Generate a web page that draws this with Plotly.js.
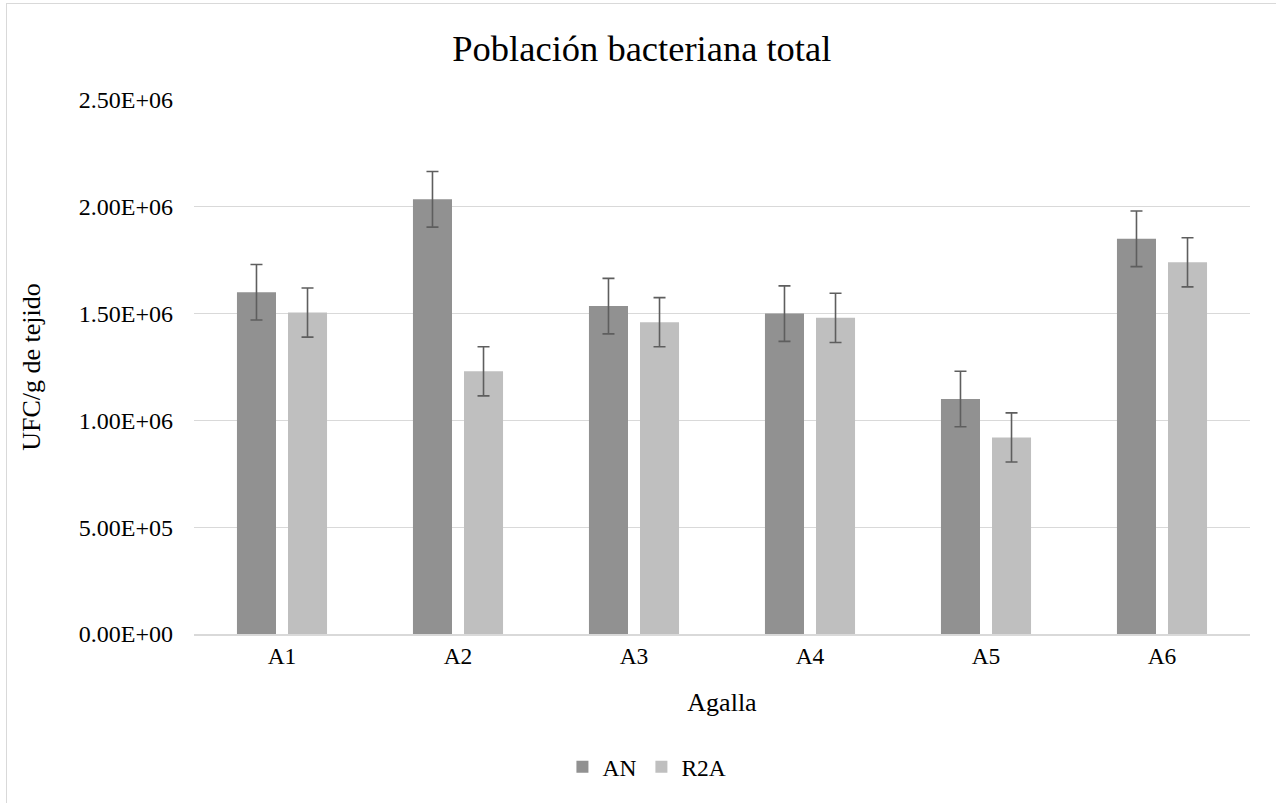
<!DOCTYPE html>
<html>
<head>
<meta charset="utf-8">
<script src="https://cdn.plot.ly/plotly-3.0.1.min.js"></script>
<style>
  html, body { margin: 0; padding: 0; background: #ffffff; overflow: hidden; }
  #chart { width: 1276px; height: 803px; }
  #frame { position: absolute; left: 6px; top: 3px; width: 1400px; height: 900px;
           border-left: 1.5px solid #d9d9d9; border-top: 1.5px solid #d9d9d9; pointer-events: none; }
</style>
</head>
<body>
<div id="chart"></div>
<div id="frame"></div>
<script>
const categories = ['A1', 'A2', 'A3', 'A4', 'A5', 'A6'];
const anValues  = [1.60e6, 2.035e6, 1.535e6, 1.50e6, 1.10e6, 1.85e6];
const r2aValues = [1.505e6, 1.23e6, 1.46e6, 1.48e6, 0.92e6, 1.74e6];
const anErrors  = [1.3e5, 1.3e5, 1.3e5, 1.3e5, 1.3e5, 1.3e5];
const r2aErrors = [1.15e5, 1.15e5, 1.15e5, 1.15e5, 1.15e5, 1.15e5];
const yTickVals = [0, 5e5, 1e6, 1.5e6, 2e6, 2.5e6];
const yTickText = ['0.00E+00', '5.00E+05', '1.00E+06', '1.50E+06', '2.00E+06', '2.50E+06'];

const FONT = 'Liberation Serif';
const errStyle = { type: 'data', visible: true, color: '#5e5e5e', thickness: 1.6, width: 6 };

const traces = [
  { type: 'bar', name: 'AN', x: categories, y: anValues,
    marker: { color: '#919191' },
    error_y: Object.assign({ array: anErrors }, errStyle) },
  { type: 'bar', name: 'R2A', x: categories, y: r2aValues,
    marker: { color: '#bfbfbf' },
    error_y: Object.assign({ array: r2aErrors }, errStyle) }
];

const layout = {
  width: 1276, height: 803,
  paper_bgcolor: '#ffffff', plot_bgcolor: '#ffffff',
  margin: { l: 194, r: 26, t: 100, b: 169 },
  font: { family: FONT, color: '#000000', size: 23 },
  title: { text: 'Población bacteriana total', font: { family: FONT, size: 36.5, color: '#000000' },
           x: 0.503, xref: 'container', xanchor: 'center', y: 1 - 48 / 803, yref: 'container', yanchor: 'middle' },
  barmode: 'group', bargap: 0.42, bargroupgap: 0.235,
  xaxis: {
    type: 'category', range: [-0.5, 5.5],
    showgrid: false, showline: true, linecolor: '#d9d9d9', linewidth: 1.5,
    ticks: '', ticklabelstandoff: 0,
    tickfont: { family: FONT, size: 23.5, color: '#000000' },
    title: { text: 'Agalla', font: { family: FONT, size: 26, color: '#000000' }, standoff: 25 }
  },
  yaxis: {
    range: [0, 2.5e6], tickmode: 'array', tickvals: yTickVals, ticktext: yTickText,
    showgrid: true, gridcolor: '#d9d9d9', gridwidth: 1.3, zeroline: false, showline: false,
    ticks: '', ticklabelstandoff: 20,
    tickfont: { family: FONT, size: 24, color: '#000000' },
    title: { text: 'UFC/g de tejido', font: { family: FONT, size: 26, color: '#000000' }, standoff: 30 }
  },
  showlegend: true,
  legend: { orientation: 'h', xref: 'container', yref: 'container', x: 0.507, xanchor: 'center',
            y: 1 - 767 / 803, yanchor: 'middle', font: { family: FONT, size: 23.5, color: '#000000' },
            itemwidth: 30, bgcolor: 'rgba(0,0,0,0)' }
};

Plotly.newPlot('chart', traces, layout, { displayModeBar: false, staticPlot: true });
</script>
</body>
</html>
